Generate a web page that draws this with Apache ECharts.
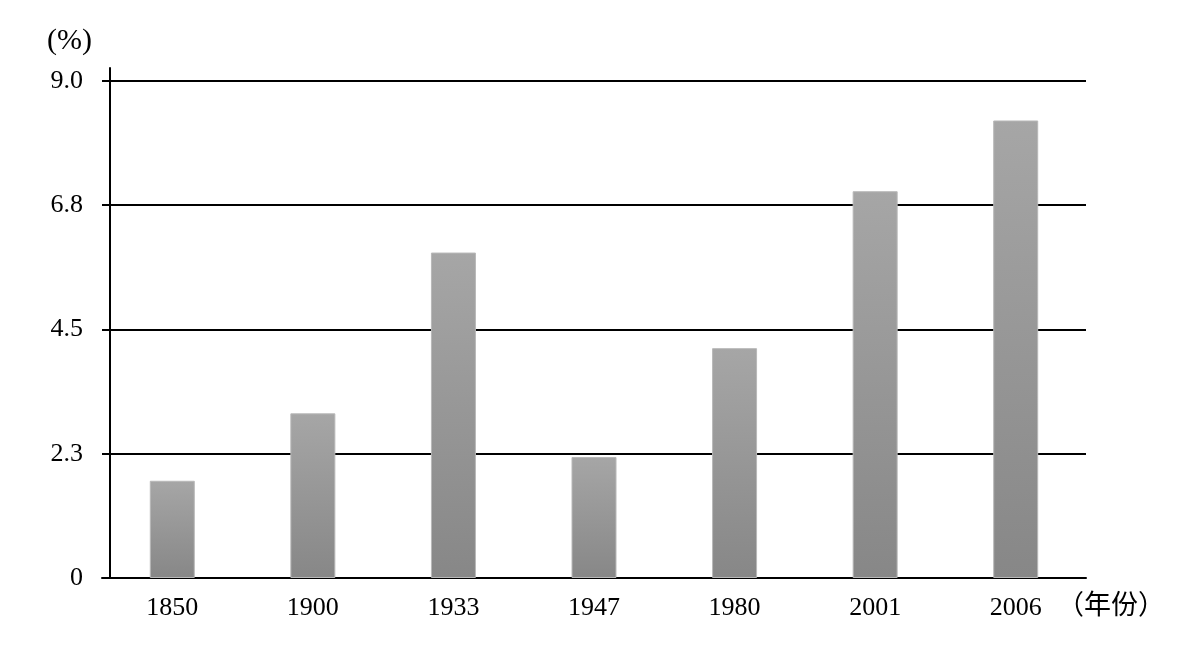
<!DOCTYPE html>
<html>
<head>
<meta charset="utf-8">
<script src="https://cdn.jsdelivr.net/npm/echarts@6/dist/echarts.min.js"></script>
<style>html,body{margin:0;padding:0;background:#fff}#c{width:1195px;height:652px}</style>
</head>
<body>
<div id="c"></div>
<script>
var categories = ['1850', '1900', '1933', '1947', '1980', '2001', '2006'];
var values = [1.76, 2.98, 5.89, 2.19, 4.16, 7.0, 8.28];
var yTickValues = [0, 2.25, 4.5, 6.75, 9];
var yTickLabels = ['0', '2.3', '4.5', '6.8', '9.0'];
var yName = '(%)';
var xName = '（年份）';

var FONT = "'Liberation Serif', 'Times New Roman', serif";
var chart = echarts.init(document.getElementById('c'));
chart.setOption({
  animation: false,
  backgroundColor: '#fff',
  grid: { left: 102, right: 109, top: 68, bottom: 74, containLabel: false },
  xAxis: {
    type: 'category',
    data: categories,
    name: xName,
    nameLocation: 'end',
    nameGap: -29,
    nameTextStyle: {
      fontFamily: "'Liberation Serif', 'Noto Sans CJK SC', serif",
      fontSize: 27, color: '#000', align: 'left', verticalAlign: 'top',
      lineHeight: 58
    },
    axisLine: { lineStyle: { color: '#000', width: 2 } },
    axisTick: { show: false },
    axisLabel: { fontFamily: FONT, fontSize: 26, color: '#000', margin: 17 }
  },
  yAxis: {
    type: 'value',
    min: 0,
    max: 9.23,
    interval: 2.25,
    offset: -8,
    name: yName,
    nameLocation: 'end',
    nameGap: 12,
    nameTextStyle: {
      fontFamily: FONT, fontSize: 30, color: '#000', align: 'right',
      padding: [0, 18, 0, 0]
    },
    axisLine: { show: true, lineStyle: { color: '#000', width: 2 } },
    axisTick: { show: false },
    splitLine: { show: true, lineStyle: { color: ['#000', '#000', '#000', '#000', '#000', 'rgba(0,0,0,0)'], width: 2 } },
    axisLabel: {
      fontFamily: FONT, fontSize: 26, color: '#000', margin: 27,
      showMaxLabel: false,
      formatter: function (v) {
        for (var i = 0; i < yTickValues.length; i++) {
          if (Math.abs(v - yTickValues[i]) < 1e-6) return yTickLabels[i];
        }
        return '';
      }
    }
  },
  series: [{
    type: 'bar',
    data: values,
    barWidth: 45,
    itemStyle: {
      color: new echarts.graphic.LinearGradient(0, 0, 0, 1, [
        { offset: 0, color: '#a6a6a6' },
        { offset: 1, color: '#878787' }
      ]),
      borderColor: '#b8b8b8',
      borderWidth: 1
    }
  }]
});
</script>
</body>
</html>
